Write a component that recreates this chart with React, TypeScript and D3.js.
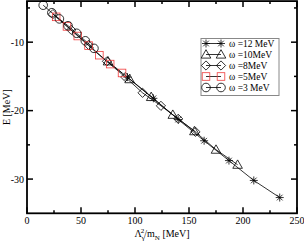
import React from "react";
import * as d3 from "d3";

const xStar = [93, 117, 140, 164, 187, 210, 234];
const eStar = [-15.1, -18.2, -21.3, -24.4, -27.3, -30.2, -32.7];
const xTri = [75, 95, 115, 135, 155, 175, 195];
const eTri = [-12.8, -15.4, -18.0, -20.6, -23.0, -25.7, -27.9];
const xDia = [24, 41, 57, 74, 91, 107, 124, 140, 156];
const eDia = [-5.9, -8.2, -10.4, -12.8, -15.1, -17.4, -19.3, -21.2, -23.1];
const xSq = [27, 37, 47, 57, 67, 77, 88];
const eSq = [-6.3, -7.7, -9.1, -10.5, -11.9, -13.2, -14.5];
const xCir = [15, 23, 30, 38, 46, 54, 62];
const eCir = [-4.6, -5.7, -6.6, -7.6, -8.7, -9.8, -10.9];

const legendLabels = ["ω =12 MeV", "ω =10MeV", "ω =8MeV", "ω =5MeV", "ω =3 MeV"];
const xMajor = [0, 50, 100, 150, 200, 250];
const xMinor = [25, 75, 125, 175, 225];
const yMajor = [-30, -20, -10];
const yMinor = [-25, -15, -5];

type Kind = "star" | "tri" | "dia" | "sq" | "cir";

const series: { kind: Kind; xs: number[]; es: number[] }[] = [
  { kind: "star", xs: xStar, es: eStar },
  { kind: "tri", xs: xTri, es: eTri },
  { kind: "dia", xs: xDia, es: eDia },
  { kind: "sq", xs: xSq, es: eSq },
  { kind: "cir", xs: xCir, es: eCir },
];

function Marker({ kind, cx, cy }: { kind: Kind; cx: number; cy: number }) {
  const s = "#000";
  const w = 0.8;
  if (kind === "star") {
    const r = 4;
    const d = r * 0.707;
    return (
      <g stroke={s} strokeWidth={w}>
        <line x1={cx - r} y1={cy} x2={cx + r} y2={cy} />
        <line x1={cx} y1={cy - r} x2={cx} y2={cy + r} />
        <line x1={cx - d} y1={cy - d} x2={cx + d} y2={cy + d} />
        <line x1={cx - d} y1={cy + d} x2={cx + d} y2={cy - d} />
      </g>
    );
  }
  if (kind === "tri") {
    const r = 4.8;
    return (
      <polygon
        points={`${cx},${cy - r} ${cx + r},${cy + r * 0.75} ${cx - r},${cy + r * 0.75}`}
        fill="none"
        stroke={s}
        strokeWidth={w}
      />
    );
  }
  if (kind === "dia") {
    const r = 4.6;
    return (
      <polygon
        points={`${cx},${cy - r} ${cx + r},${cy} ${cx},${cy + r} ${cx - r},${cy}`}
        fill="none"
        stroke={s}
        strokeWidth={w}
      />
    );
  }
  if (kind === "sq") {
    const r = 3.8;
    return (
      <rect x={cx - r} y={cy - r} width={2 * r} height={2 * r} fill="none" stroke="#f03c3c" strokeWidth={w} />
    );
  }
  return <circle cx={cx} cy={cy} r={4.3} fill="none" stroke={s} strokeWidth={w} />;
}

export default function App() {
  const W = 304;
  const H = 241;
  const x = d3.scaleLinear().domain([0, 250]).range([27, 297]);
  const y = d3.scaleLinear().domain([-35, -4]).range([213.3, 1.1]);
  const line = d3.line<number[]>().x((d) => x(d[0])).y((d) => y(d[1]));
  const font = "'Liberation Serif', 'Times New Roman', serif";
  const [x0, x1] = x.range();
  const [yb, yt] = y.range();

  const legX = 201;
  const legY = 38.5;
  const legW = 78;
  const legH = 57;

  return (
    <svg
      width={W}
      height={H}
      style={{ position: "absolute", left: 0, top: 0, background: "#fff" }}
      fontFamily={font}
    >
      <rect width={W} height={H} fill="#fff" />
      {series.map((s, i) => (
        <path
          key={"l" + i}
          d={line(s.xs.map((v, j) => [v, s.es[j]])) || ""}
          fill="none"
          stroke="#000"
          strokeWidth={0.8}
        />
      ))}
      {series.map((s, i) => (
        <g key={"m" + i}>
          {s.xs.map((v, j) => (
            <Marker key={j} kind={s.kind} cx={x(v)} cy={y(s.es[j])} />
          ))}
        </g>
      ))}
      <g stroke="#000" strokeWidth={1.5}>
        {xMajor.map((t) => (
          <g key={"xm" + t}>
            <line x1={x(t)} x2={x(t)} y1={yb} y2={yb - 6} />
            <line x1={x(t)} x2={x(t)} y1={yt} y2={yt + 6} />
          </g>
        ))}
        {xMinor.map((t) => (
          <g key={"xn" + t}>
            <line x1={x(t)} x2={x(t)} y1={yb} y2={yb - 3} />
            <line x1={x(t)} x2={x(t)} y1={yt} y2={yt + 3} />
          </g>
        ))}
        {yMajor.map((t) => (
          <g key={"ym" + t}>
            <line x1={x0} x2={x0 + 6} y1={y(t)} y2={y(t)} />
            <line x1={x1} x2={x1 - 6} y1={y(t)} y2={y(t)} />
          </g>
        ))}
        {yMinor.map((t) => (
          <g key={"yn" + t}>
            <line x1={x0} x2={x0 + 3} y1={y(t)} y2={y(t)} />
            <line x1={x1} x2={x1 - 3} y1={y(t)} y2={y(t)} />
          </g>
        ))}
      </g>
      <rect x={x0} y={yt} width={x1 - x0} height={yb - yt} fill="none" stroke="#000" strokeWidth={1.8} />
      {xMajor.map((t) => (
        <text key={"xl" + t} x={x(t)} y={224} textAnchor="middle" fontSize={10}>
          {t}
        </text>
      ))}
      {yMajor.map((t) => (
        <text key={"yl" + t} x={24} y={y(t) + 3.5} textAnchor="end" fontSize={10}>
          {t}
        </text>
      ))}
      <text x={(x0 + x1) / 2} y={237} textAnchor="middle" fontSize={10}>
        <tspan>Λ</tspan>
        <tspan fontSize={7} dy={2.5}>γ</tspan>
        <tspan fontSize={7} dx={-4} dy={-7}>2</tspan>
        <tspan dy={4.5}>/m</tspan>
        <tspan fontSize={7} dy={2.5}>N</tspan>
        <tspan dy={-2.5}> [MeV]</tspan>
      </text>
      <text
        transform={`translate(9.5,${(yb + yt) / 2}) rotate(-90)`}
        textAnchor="middle"
        fontSize={10}
      >
        E [MeV]
      </text>
      <rect x={legX} y={legY} width={legW} height={legH} fill="#fff" stroke="#888" strokeWidth={1} />
      {series.map((s, i) => {
        const cy = legY + 5 + i * 11;
        return (
          <g key={"lg" + i}>
            <line x1={legX + 5} x2={legX + 20} y1={cy} y2={cy} stroke="#000" strokeWidth={0.8} />
            <Marker kind={s.kind} cx={legX + 5} cy={cy} />
            <Marker kind={s.kind} cx={legX + 20} cy={cy} />
            <text x={legX + 28} y={cy + 3.3} fontSize={9.5}>
              {legendLabels[i]}
            </text>
          </g>
        );
      })}
    </svg>
  );
}
